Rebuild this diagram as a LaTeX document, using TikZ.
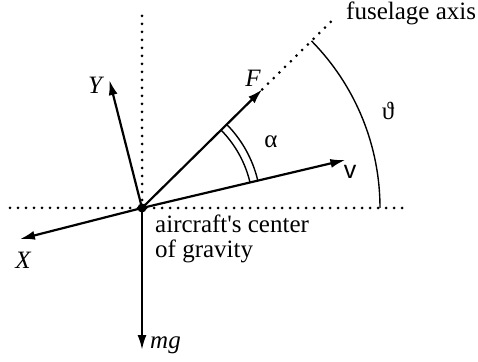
\documentclass[tikz,border=0pt]{standalone}
\usepackage{fontspec}
\setmainfont{Liberation Serif}
\newfontfamily\sansf{Liberation Sans}
\usetikzlibrary{arrows.meta,calc}
\begin{document}
\begin{tikzpicture}[x=1pt,y=1pt,
  vec/.style={line width=2.2pt,-{Latex[length=15pt,width=9pt]}},
  dotline/.style={line width=3pt,line cap=round,dash pattern=on 0pt off 8pt},
  thin arc/.style={line width=1.4pt},
  lbl/.style={inner sep=0pt,font=\fontsize{25}{25}\selectfont}]
\useasboundingbox (0,0) rectangle (478,361);
\coordinate (O) at (142,153);
\coordinate (hl) at (10,153);
\coordinate (hr) at (407,153);
\coordinate (vt) at (142,346);
\coordinate (Yt) at ($(O)+(104.3:132)$);
\coordinate (Xt) at ($(O)+(194.3:126)$);
\coordinate (Mt) at ($(O)+(270:142)$);
\coordinate (Ft) at ($(O)+(44.6:169)$);
\coordinate (Fe) at ($(O)+(44.6:268)$);
\coordinate (Vt) at ($(O)+(13.3:209)$);
% dotted reference lines
\draw[dotline] (hl) -- (hr);
\draw[dotline] (O) -- (vt);
\draw[dotline] (Ft) -- (Fe);
% angle arcs
\draw[thin arc] ($(O)+(0:238)$) arc[start angle=0,end angle=44.6,radius=238];
\draw[thin arc] ($(O)+(13.3:111)$) arc[start angle=13.3,end angle=44.6,radius=111];
\draw[thin arc] ($(O)+(13.3:119)$) arc[start angle=13.3,end angle=44.6,radius=119];
% vectors
\draw[vec] (O) -- (Yt);
\draw[vec] (O) -- (Xt);
\draw[vec] (O) -- (Mt);
\draw[vec] (O) -- (Ft);
\draw[vec] (O) -- (Vt);
\fill (O) circle[radius=4.5];
% labels
\node[lbl] (Ylab) at (95,276) {\itshape Y};
\node[lbl] (Xlab) at (23,101) {\itshape X};
\node[lbl,anchor=west] (mglab) at (150,16) {\itshape mg};
\node[lbl] (Flab) at (253,283) {\itshape F};
\node[lbl] (vlab) at (350,189) {\sansf v};
\node[lbl] (alab) at (271,219) {α};
\node[lbl] (tlab) at (388,250) {ϑ};
\node[lbl,anchor=base west] (fus) at (346,341) {fuselage axis};
\node[lbl,anchor=base west,align=left] (cg) at (155,103) {aircraft\textquotesingle s center\\of gravity};
\end{tikzpicture}
\end{document}
